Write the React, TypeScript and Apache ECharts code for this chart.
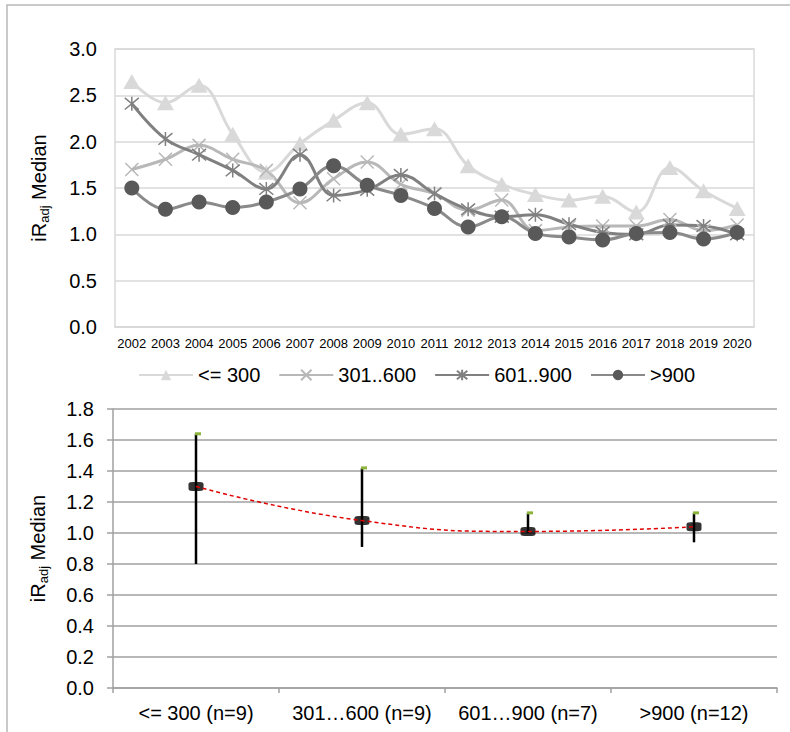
import React, { useEffect, useRef } from 'react';
import * as echarts from 'echarts';

const years = ['2002', '2003', '2004', '2005', '2006', '2007', '2008', '2009', '2010', '2011', '2012', '2013', '2014', '2015', '2016', '2017', '2018', '2019', '2020'];
const seriesNames = ['<= 300', '301..600', '601..900', '>900'];
const le300 = [2.65, 2.42, 2.61, 2.08, 1.67, 1.98, 2.23, 2.42, 2.08, 2.14, 1.74, 1.54, 1.43, 1.37, 1.41, 1.24, 1.72, 1.47, 1.28];
const s301to600 = [1.70, 1.81, 1.96, 1.81, 1.69, 1.34, 1.60, 1.78, 1.54, 1.44, 1.26, 1.37, 1.04, 1.08, 1.09, 1.09, 1.16, 1.04, 1.10];
const s601to900 = [2.41, 2.03, 1.86, 1.69, 1.49, 1.86, 1.42, 1.48, 1.64, 1.44, 1.27, 1.19, 1.21, 1.11, 1.02, 1.00, 1.10, 1.09, 1.00];
const gt900 = [1.50, 1.27, 1.35, 1.29, 1.35, 1.49, 1.74, 1.53, 1.42, 1.28, 1.08, 1.19, 1.01, 0.97, 0.94, 1.01, 1.02, 0.95, 1.02];

const groupLabels = ['<= 300 (n=9)', '301…600 (n=9)', '601…900 (n=7)', '>900 (n=12)'];
const groupMedians = [1.30, 1.08, 1.01, 1.04];
const groupHighs = [1.64, 1.42, 1.13, 1.13];
const groupLows = [0.80, 0.91, 1.00, 0.94];

const FONT = '"Liberation Sans", Arial, sans-serif';

const axisName = {
  name: 'iR{sub|adj} Median',
  nameLocation: 'middle' as const,
  nameRotate: 90,
  nameTextStyle: {
    fontFamily: FONT,
    fontSize: 20,
    color: '#000',
    lineHeight: 24,
    verticalAlign: 'bottom',
    rich: {
      sub: { fontFamily: FONT, fontSize: 13, lineHeight: 14, verticalAlign: 'bottom', color: '#000' },
    },
  },
};

export default function App() {
  const ref = useRef<HTMLDivElement>(null);
  useEffect(() => {
    if (!ref.current) return;
    const chart = echarts.init(ref.current, undefined, { renderer: 'svg' });
    const xSym = 'path://M0,0L10,10M10,0L0,10';
    const starSym = 'path://M0,0L10,10M10,0L0,10M5,-1L5,11';
    chart.setOption({
      animation: false,
      backgroundColor: '#fff',
      textStyle: { fontFamily: FONT },
      graphic: [
        {
          type: 'rect',
          silent: true,
          z: -10,
          shape: { x: 7, y: 5, width: 900, height: 900 },
          style: { fill: 'none', stroke: '#b8b8b8', lineWidth: 1.5 },
        },
      ],
      legend: {
        data: seriesNames,
        left: 133,
        top: 360,
        itemWidth: 54,
        itemHeight: 13,
        itemGap: 18,
        textStyle: { fontFamily: FONT, fontSize: 20, color: '#000' },
      },
      grid: [
        { left: 115, top: 49, width: 639, height: 278, show: true, borderColor: '#d9d9d9', borderWidth: 1.5, containLabel: false },
        { left: 113, top: 409, width: 664, height: 279, containLabel: false },
      ],
      xAxis: [
        {
          type: 'category',
          gridIndex: 0,
          data: years,
          boundaryGap: true,
          axisLine: { show: true, lineStyle: { color: '#d9d9d9', width: 1.5 } },
          axisTick: { show: false },
          axisLabel: { fontFamily: FONT, fontSize: 13, color: '#000', margin: 10, interval: 0 },
        },
        {
          type: 'category',
          gridIndex: 1,
          data: groupLabels,
          boundaryGap: true,
          axisLine: { show: true, lineStyle: { color: '#a0a0a0', width: 1.5 } },
          axisTick: { show: true, length: 5, lineStyle: { color: '#a0a0a0', width: 1.5 } },
          axisLabel: { fontFamily: FONT, fontSize: 20, color: '#000', margin: 15, interval: 0 },
        },
      ],
      yAxis: [
        {
          type: 'value',
          gridIndex: 0,
          min: 0,
          max: 3,
          interval: 0.5,
          ...axisName,
          nameGap: 64,
          axisLine: { show: false },
          axisTick: { show: false },
          splitLine: { lineStyle: { color: '#d9d9d9', width: 1.5 } },
          axisLabel: { fontFamily: FONT, fontSize: 20, color: '#000', margin: 18, formatter: (v: number) => v.toFixed(1) },
        },
        {
          type: 'value',
          gridIndex: 1,
          min: 0,
          max: 1.8,
          interval: 0.2,
          ...axisName,
          nameGap: 63,
          axisLine: { show: true, lineStyle: { color: '#a0a0a0', width: 1.5 } },
          axisTick: { show: true, length: 6, lineStyle: { color: '#a0a0a0', width: 1.5 } },
          splitLine: { lineStyle: { color: '#a0a0a0', width: 1.5 } },
          axisLabel: { fontFamily: FONT, fontSize: 20, color: '#000', margin: 19, formatter: (v: number) => v.toFixed(1) },
        },
      ],
      series: [
        {
          name: '<= 300',
          type: 'line',
          xAxisIndex: 0,
          yAxisIndex: 0,
          data: le300,
          smooth: 0.4,
          symbol: 'triangle',
          symbolSize: [17, 15],
          lineStyle: { color: '#d9d9d9', width: 3 },
          itemStyle: { color: '#d9d9d9' },
        },
        {
          name: '301..600',
          type: 'line',
          xAxisIndex: 0,
          yAxisIndex: 0,
          data: s301to600,
          smooth: 0.4,
          symbol: xSym,
          symbolSize: 13,
          lineStyle: { color: '#b8b8b8', width: 3 },
          itemStyle: { color: '#b8b8b8', borderColor: '#b8b8b8', borderWidth: 1.5 },
        },
        {
          name: '601..900',
          type: 'line',
          xAxisIndex: 0,
          yAxisIndex: 0,
          data: s601to900,
          smooth: 0.4,
          symbol: starSym,
          symbolSize: 14,
          lineStyle: { color: '#808080', width: 3 },
          itemStyle: { color: '#808080', borderColor: '#808080', borderWidth: 1.5 },
        },
        {
          name: '>900',
          type: 'line',
          xAxisIndex: 0,
          yAxisIndex: 0,
          data: gt900,
          smooth: 0.4,
          symbol: 'circle',
          symbolSize: 15,
          lineStyle: { color: '#8a8a8a', width: 3 },
          itemStyle: { color: '#595959' },
        },
        {
          name: 'range',
          type: 'custom',
          xAxisIndex: 1,
          yAxisIndex: 1,
          data: groupLabels.map((_, i) => [i, groupLows[i], groupHighs[i]]),
          encode: { x: 0, y: [1, 2] },
          renderItem: (_params: any, api: any) => {
            const idx = api.value(0);
            const lo = api.coord([idx, api.value(1)]);
            const hi = api.coord([idx, api.value(2)]);
            return {
              type: 'group',
              children: [
                {
                  type: 'line',
                  shape: { x1: lo[0], y1: lo[1], x2: hi[0], y2: hi[1] },
                  style: { stroke: '#000', lineWidth: 2.5 },
                },
                {
                  type: 'rect',
                  shape: { x: hi[0] - 1, y: hi[1] - 1.5, width: 6, height: 3 },
                  style: { fill: '#8db33a' },
                },
              ],
            };
          },
        },
        {
          name: 'median',
          type: 'scatter',
          xAxisIndex: 1,
          yAxisIndex: 1,
          data: groupMedians,
          symbol: 'roundRect',
          symbolSize: [15, 9],
          itemStyle: { color: '#000' },
          z: 3,
        },
        {
          name: 'trend',
          type: 'line',
          xAxisIndex: 1,
          yAxisIndex: 1,
          data: groupMedians,
          smooth: 0.5,
          symbol: 'none',
          lineStyle: { color: '#e00000', width: 1.5, type: [4, 3] },
          z: 5,
        },
      ],
    });
    return () => chart.dispose();
  }, []);
  return <div ref={ref} style={{ position: 'fixed', left: 0, top: 0, width: 790, height: 732 }} />;
}
